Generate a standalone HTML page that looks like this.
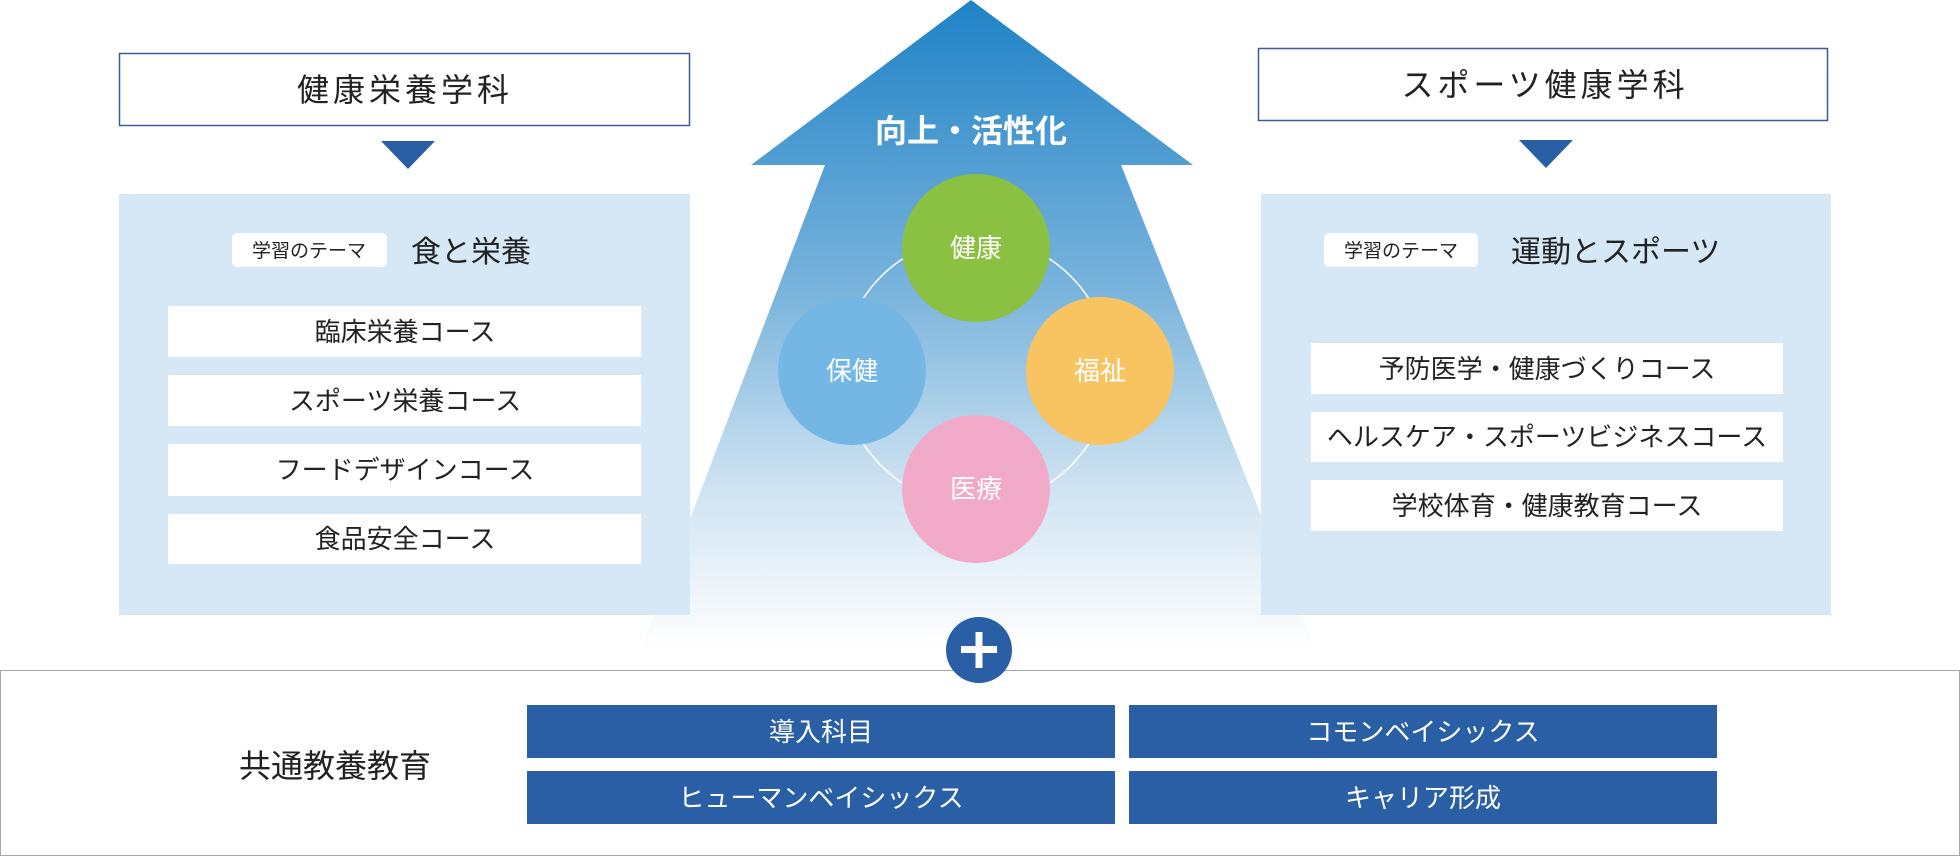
<!DOCTYPE html>
<html><head><meta charset="utf-8"><style>
html,body{margin:0;padding:0;background:#fff;}
svg{display:block;font-family:"Liberation Sans","Noto Sans CJK JP",sans-serif;}
</style></head><body>
<svg width="1960" height="856" viewBox="0 0 1960 856" xmlns="http://www.w3.org/2000/svg">
<defs>
<linearGradient id="ag" gradientUnits="userSpaceOnUse" x1="0" y1="0" x2="0" y2="650">
<stop offset="0" stop-color="#1f82c6"/>
<stop offset="0.45" stop-color="#7ab4dc"/>
<stop offset="0.75" stop-color="#cfe3f2"/>
<stop offset="1" stop-color="#ffffff"/>
</linearGradient>
</defs>
<!-- arrow -->
<polygon points="971,0 1193,165 1121,165 1315,650 640,650 825,165 751,165" fill="url(#ag)"/>
<text x="971" y="142" font-size="32" font-weight="bold" fill="#fff" text-anchor="middle">向上・活性化</text>
<circle cx="976" cy="371" r="134" fill="none" stroke="#fff" stroke-width="1.5"/>
<circle cx="976" cy="248" r="74" fill="#8bc142"/>
<circle cx="852" cy="371" r="74" fill="#74b7e4"/>
<circle cx="1100" cy="371" r="74" fill="#f8c462"/>
<circle cx="976" cy="489" r="74" fill="#f1abc8"/>
<g font-size="26" fill="#fff" text-anchor="middle">
<text x="976" y="257">健康</text>
<text x="852" y="380">保健</text>
<text x="1100" y="380">福祉</text>
<text x="976" y="498">医療</text>
</g>
<!-- left -->
<rect x="119.5" y="53.5" width="570" height="72" fill="#fff" stroke="#3a5a9a" stroke-width="1.5"/>
<text x="405" y="101" font-size="32" text-anchor="middle" letter-spacing="4" fill="#222">健康栄養学科</text>
<polygon points="381,141 435,141 408,169" fill="#2a5ea5"/>
<rect x="119" y="194" width="571" height="421" fill="#d6e7f5"/>
<rect x="232" y="233" width="155" height="34" rx="5" fill="#fff"/>
<text x="309" y="257" font-size="19" text-anchor="middle" fill="#222">学習のテーマ</text>
<text x="411" y="262" font-size="30" fill="#222">食と栄養</text>
<g fill="#fff"><rect x="168" y="306" width="473" height="51"/><rect x="168" y="375" width="473" height="51"/><rect x="168" y="444" width="473" height="52"/><rect x="168" y="514" width="473" height="50"/></g>
<g font-size="26" fill="#222" text-anchor="middle">
<text x="405" y="341">臨床栄養コース</text>
<text x="405" y="410">スポーツ栄養コース</text>
<text x="405" y="479">フードデザインコース</text>
<text x="405" y="548">食品安全コース</text>
</g>
<!-- right -->
<rect x="1258.5" y="48.5" width="569" height="72" fill="#fff" stroke="#3a5a9a" stroke-width="1.5"/>
<text x="1545" y="96" font-size="32" text-anchor="middle" letter-spacing="4" fill="#222">スポーツ健康学科</text>
<polygon points="1519,140 1573,140 1546,168" fill="#2a5ea5"/>
<rect x="1261" y="194" width="570" height="421" fill="#d6e7f5"/>
<rect x="1324" y="233" width="154" height="34" rx="5" fill="#fff"/>
<text x="1401" y="257" font-size="19" text-anchor="middle" fill="#222">学習のテーマ</text>
<text x="1511" y="262" font-size="30" fill="#222">運動とスポーツ</text>
<g fill="#fff"><rect x="1311" y="343" width="472" height="51"/><rect x="1311" y="412" width="472" height="50"/><rect x="1311" y="480" width="472" height="51"/></g>
<g font-size="26" fill="#222" text-anchor="middle">
<text x="1547" y="378">予防医学・健康づくりコース</text>
<text x="1547" y="446">ヘルスケア・スポーツビジネスコース</text>
<text x="1547" y="515">学校体育・健康教育コース</text>
</g>
<!-- bottom -->
<rect x="0.5" y="670.5" width="1959" height="185" fill="#fff" stroke="#a8a8a8" stroke-width="1"/>
<circle cx="979" cy="650" r="33" fill="#2a5ea5"/>
<rect x="961" y="646" width="36" height="7" fill="#fff"/>
<rect x="975.5" y="632" width="7" height="36" fill="#fff"/>
<text x="335" y="777" font-size="32" text-anchor="middle" fill="#222">共通教養教育</text>
<g fill="#2a5ea5"><rect x="527" y="705" width="588" height="53"/><rect x="527" y="771" width="588" height="53"/><rect x="1129" y="705" width="588" height="53"/><rect x="1129" y="771" width="588" height="53"/></g>
<g font-size="26" fill="#fff" text-anchor="middle">
<text x="821" y="741">導入科目</text>
<text x="821" y="807">ヒューマンベイシックス</text>
<text x="1423" y="741">コモンベイシックス</text>
<text x="1423" y="807">キャリア形成</text>
</g>
</svg>
</body></html>
